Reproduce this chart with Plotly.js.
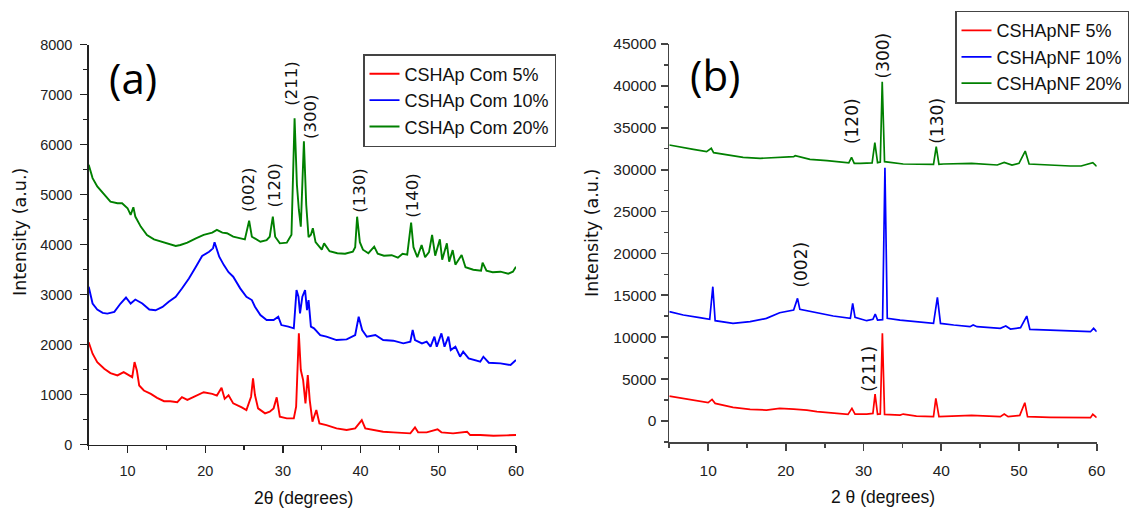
<!DOCTYPE html>
<html>
<head>
<meta charset="utf-8">
<script src="https://cdn.plot.ly/plotly-3.0.1.min.js"></script>
<style>html,body{margin:0;padding:0;background:#fff;}#chart{width:1130px;height:510px;}</style>
</head>
<body>
<div id="chart"></div>
<script>
// ---------- Panel (a): CSHAp Com ----------
const seriesNamesA = ["CSHAp Com 5%", "CSHAp Com 10%", "CSHAp Com 20%"];
const redA_x = [5, 5.5, 6.1, 7.0, 7.8, 8.7, 9.5, 10.2, 10.6, 10.9, 11.2, 11.5, 12.1, 13.0, 13.8, 14.7, 15.5, 16.4, 17.0, 17.7, 18.8, 19.8, 20.9, 21.5, 22.1, 22.5, 23.0, 23.6, 24.7, 25.3, 25.9, 26.15, 26.4, 26.8, 27.7, 28.3, 28.8, 29.2, 29.6, 30.5, 31.4, 31.7, 32.05, 32.3, 32.6, 32.9, 33.2, 33.45, 33.8, 34.3, 34.7, 35.6, 36.9, 38.2, 39.3, 40.15, 40.6, 41.7, 42.9, 44.2, 45.5, 46.4, 47.0, 47.4, 48.5, 49.9, 50.4, 51.9, 53.7, 54.1, 55.4, 57.1, 58.8, 60];
const redA_y = [2050, 1820, 1652, 1518, 1431, 1385, 1452, 1385, 1351, 1652, 1485, 1184, 1084, 1017, 937, 870, 870, 850, 950, 896, 983, 1050, 1017, 983, 1137, 917, 990, 827, 747, 693, 960, 1327, 993, 727, 627, 660, 727, 947, 560, 527, 527, 760, 2227, 1493, 1293, 827, 1393, 893, 460, 693, 427, 393, 327, 293, 327, 493, 327, 293, 260, 247, 227, 227, 347, 247, 247, 307, 247, 227, 260, 193, 193, 180, 187, 193];
const blueA_x = [5, 5.5, 6.1, 6.8, 7.4, 8.3, 9.1, 9.8, 10.4, 11.0, 11.9, 12.8, 13.6, 14.5, 15.3, 16.2, 17.0, 17.9, 18.8, 19.6, 20.5, 21.0, 21.2, 21.8, 22.4, 23.0, 23.6, 24.5, 25.3, 26.0, 26.4, 27.1, 27.9, 28.8, 29.4, 29.8, 30.7, 31.4, 31.75, 32.0, 32.2, 32.5, 32.85, 33.1, 33.3, 33.6, 34.0, 34.8, 35.6, 36.9, 38.2, 39.3, 39.75, 40.2, 40.8, 41.9, 42.9, 44.2, 45.5, 46.4, 46.7, 47.0, 47.9, 48.5, 49.0, 49.5, 49.8, 50.4, 50.8, 51.3, 51.6, 52.2, 52.8, 53.2, 53.9, 55.4, 55.8, 56.5, 58.0, 59.3, 60];
const blueA_y = [3158, 2823, 2703, 2636, 2622, 2656, 2823, 2944, 2823, 2903, 2823, 2703, 2689, 2756, 2857, 2957, 3124, 3325, 3559, 3773, 3860, 3927, 4050, 3760, 3592, 3450, 3360, 3127, 2960, 2893, 2760, 2593, 2493, 2493, 2560, 2393, 2360, 2327, 3093, 2960, 2627, 2960, 3093, 2693, 2893, 2360, 2327, 2193, 2160, 2093, 2107, 2193, 2560, 2293, 2160, 2193, 2093, 2080, 2027, 2060, 2293, 2093, 2027, 2060, 1960, 2160, 1960, 2227, 1960, 2160, 1893, 1960, 1760, 1860, 1727, 1660, 1760, 1640, 1627, 1593, 1693];
const greenA_x = [5, 5.5, 6.1, 7.0, 7.8, 8.7, 9.3, 10.0, 10.4, 10.75, 11.0, 11.7, 12.5, 13.4, 14.3, 15.1, 16.2, 16.8, 17.7, 18.8, 19.8, 20.9, 21.5, 22.2, 22.8, 23.6, 24.5, 25.1, 25.65, 26.0, 27.1, 27.9, 28.3, 28.7, 29.0, 29.6, 30.5, 31.1, 31.5, 31.8, 32.05, 32.3, 32.7, 33.0, 33.3, 33.6, 33.85, 34.2, 35.0, 35.3, 36.0, 37.0, 38.0, 39.0, 39.3, 39.55, 39.9, 40.3, 41.0, 41.75, 42.2, 43.0, 44.0, 44.8, 45.4, 46.0, 46.5, 46.8, 47.3, 47.85, 48.3, 48.8, 49.2, 49.6, 50.2, 50.5, 51.1, 51.4, 51.85, 52.2, 53.0, 53.5, 54.5, 55.5, 55.7, 56.2, 57.0, 58.0, 59.0, 59.6, 60];
const greenA_y = [5600, 5332, 5165, 4997, 4863, 4830, 4830, 4730, 4596, 4750, 4563, 4362, 4195, 4108, 4061, 4027, 3974, 3994, 4041, 4128, 4195, 4241, 4295, 4241, 4230, 4160, 4127, 4107, 4480, 4160, 4060, 4093, 4160, 4560, 4160, 4027, 4040, 4200, 6530, 5200, 4700, 4360, 6070, 4800, 4150, 4200, 4330, 4050, 3900, 4027, 3870, 3830, 3820, 3860, 3950, 4560, 4050, 3900, 3830, 3960, 3820, 3780, 3790, 3740, 3820, 3800, 4440, 3950, 3750, 3994, 3750, 3850, 4194, 3780, 4107, 3700, 4027, 3660, 3893, 3600, 3793, 3550, 3500, 3480, 3640, 3480, 3450, 3460, 3420, 3460, 3560];
const peakLabelsA = ["(002)", "(120)", "(211)", "(300)", "(130)", "(140)"];
const peakLabelA_x = [25.5, 28.9, 31.0, 33.45, 39.75, 46.65];
const peakLabelA_y = [5094, 5194, 7214, 6550, 5074, 4984];

// ---------- Panel (b): CSHApNF ----------
const seriesNamesB = ["CSHApNF 5%", "CSHApNF 10%", "CSHApNF 20%"];
const redB_x = [5, 6.8, 8.9, 10.0, 10.5, 10.9, 13.2, 15.4, 17.5, 19.2, 21.0, 22.7, 24.0, 26.1, 28.0, 28.5, 28.9, 30.4, 31.2, 31.48, 31.8, 32.15, 32.42, 32.7, 34.7, 35.1, 36.8, 39.0, 39.3, 39.7, 41.6, 43.9, 47.6, 48.1, 48.6, 50.1, 50.75, 51.1, 54.0, 57.0, 59.2, 59.5, 60];
const redB_y = [2983, 2705, 2426, 2188, 2585, 2108, 1631, 1392, 1313, 1512, 1432, 1313, 1114, 915, 796, 1512, 835, 835, 915, 3222, 796, 850, 10461, 796, 716, 835, 597, 517, 2705, 517, 597, 676, 517, 835, 517, 676, 2188, 517, 438, 398, 398, 796, 398];
const blueB_x = [5, 6.8, 8.9, 10.2, 10.6, 10.9, 13.2, 15.4, 17.5, 19.2, 21.0, 21.5, 21.8, 24.0, 26.1, 28.3, 28.6, 28.9, 29.3, 30.4, 31.2, 31.5, 31.8, 32.45, 32.75, 33.05, 34.7, 36.8, 39.0, 39.5, 39.9, 41.6, 43.7, 44.1, 44.6, 47.6, 48.3, 48.9, 50.2, 51.0, 51.4, 54.0, 56.2, 59.2, 59.6, 60];
const blueB_y = [13047, 12649, 12331, 12132, 16030, 11973, 11655, 11854, 12251, 12928, 13246, 14638, 13325, 12928, 12530, 12251, 14041, 12371, 12251, 11973, 12132, 12768, 12052, 12100, 30230, 12251, 12052, 11854, 11655, 14757, 11655, 11456, 11257, 11456, 11257, 11058, 11337, 10979, 11138, 12530, 10939, 10859, 10780, 10660, 11058, 10660];
const greenB_x = [5, 6.4, 8.1, 9.8, 10.4, 10.7, 12.4, 14.5, 16.7, 18.8, 21.0, 21.2, 23.1, 25.3, 27.4, 28.1, 28.45, 28.8, 29.6, 31.1, 31.45, 31.8, 32.15, 32.4, 32.7, 35.1, 39.0, 39.35, 39.7, 40.3, 43.9, 47.2, 48.1, 49.1, 50.0, 50.8, 51.3, 53.6, 56.6, 58.0, 59.5, 60];
const greenB_y = [32935, 32737, 32418, 32140, 32538, 32020, 31742, 31464, 31344, 31464, 31543, 31663, 31225, 31066, 30827, 30800, 31464, 30748, 30748, 30800, 33214, 30827, 30900, 40493, 30947, 30668, 30628, 32737, 30628, 30668, 30748, 30549, 30867, 30549, 30748, 32220, 30668, 30549, 30430, 30430, 30823, 30400];
const peakLabelsB = ["(300)", "(120)", "(130)", "(002)", "(211)"];
const peakLabelB_x = [32.56, 28.55, 39.43, 21.83, 30.74];
const peakLabelB_y = [43675, 35823, 35823, 18675, 6289];

const colors = ["#ff0000", "#0000ff", "#008000"];

const traces = [];
[[redA_x, redA_y], [blueA_x, blueA_y], [greenA_x, greenA_y]].forEach((s, i) => {
  traces.push({x: s[0], y: s[1], type: "scatter", mode: "lines", name: seriesNamesA[i],
    line: {color: colors[i], width: 1.9}, xaxis: "x", yaxis: "y", legend: "legend"});
});
[[redB_x, redB_y], [blueB_x, blueB_y], [greenB_x, greenB_y]].forEach((s, i) => {
  traces.push({x: s[0], y: s[1], type: "scatter", mode: "lines", name: seriesNamesB[i],
    line: {color: colors[i], width: 1.7}, xaxis: "x2", yaxis: "y2", legend: "legend2"});
});

const sans = "Arial, 'Liberation Sans', sans-serif";
const tickFontA = {family: sans, size: 14.5, color: "#222"};
const tickFontB = {family: sans, size: 15.5, color: "#222"};

function axis(extra, col, w) {
  return Object.assign({
    showgrid: false, zeroline: false, showline: true, linecolor: col, linewidth: w,
    ticks: "outside", ticklen: 7, tickwidth: w, tickcolor: col, mirror: false, fixedrange: true,
    tickformat: "d", exponentformat: "none", separatethousands: false
  }, extra);
}

const annotations = [];
peakLabelsA.forEach((t, i) => annotations.push({
  text: t, x: peakLabelA_x[i], y: peakLabelA_y[i], xref: "x", yref: "y", showarrow: false,
  textangle: -90, xanchor: "center", yanchor: "middle",
  font: {family: "'DejaVu Sans', sans-serif", size: 16.5, color: "#111"}
}));
peakLabelsB.forEach((t, i) => annotations.push({
  text: t, x: peakLabelB_x[i], y: peakLabelB_y[i], xref: "x2", yref: "y2", showarrow: false,
  textangle: -90, xanchor: "center", yanchor: "middle",
  font: {family: "'DejaVu Sans', sans-serif", size: 17, color: "#111"}
}));
const titleFont = {family: sans, size: 17.5, color: "#111"};
const yTitleFont = {family: "'DejaVu Sans', sans-serif", size: 17.5, color: "#111"};
annotations.push(
  {text: "Intensity (a.u.)", x: 20/1130, y: 1-232/510, xref: "paper", yref: "paper", showarrow: false, textangle: -90, xanchor: "center", yanchor: "middle", font: yTitleFont},
  {text: "Intensity (a.u.)", x: 592/1130, y: 1-233/510, xref: "paper", yref: "paper", showarrow: false, textangle: -90, xanchor: "center", yanchor: "middle", font: yTitleFont},
  {text: "2θ (degrees)", x: 303/1130, y: 1-498/510, xref: "paper", yref: "paper", showarrow: false, xanchor: "center", yanchor: "middle", font: titleFont},
  {text: "2 θ (degrees)", x: 882.5/1130, y: 1-496.5/510, xref: "paper", yref: "paper", showarrow: false, xanchor: "center", yanchor: "middle", font: titleFont},
  {text: "(a)", x: 133/1130, y: 1-77/510, xref: "paper", yref: "paper", showarrow: false, xanchor: "center", yanchor: "middle", font: {family: "'Open Sans', sans-serif", size: 42, color: "#000"}},
  {text: "(b)", x: 715/1130, y: 1-74/510, xref: "paper", yref: "paper", showarrow: false, xanchor: "center", yanchor: "middle", font: {family: "'Open Sans', sans-serif", size: 42, color: "#000"}}
);

const legendFont = {family: sans, size: 18, color: "#111"};
const layout = {
  width: 1130, height: 510,
  margin: {l: 0, r: 0, t: 0, b: 0},
  paper_bgcolor: "#ffffff", plot_bgcolor: "#ffffff",
  showlegend: true,
  xaxis: axis({domain: [88.7/1130, 516/1130], range: [5, 60], tick0: 0, dtick: 10, anchor: "y",
    tickfont: tickFontA, ticklabelstandoff: 5,
    minor: {dtick: 5, tick0: 0, ticks: "outside", ticklen: 4, tickwidth: 1.3, tickcolor: "#222", showgrid: false}}, "#222", 1.4),
  yaxis: axis({domain: [1-444.7/510, 1-44.7/510], range: [0, 8000], tick0: 0, dtick: 1000, anchor: "x",
    tickfont: tickFontA, ticklabelstandoff: 5,
    minor: {dtick: 500, tick0: 0, ticks: "outside", ticklen: 4, tickwidth: 1.3, tickcolor: "#222", showgrid: false}}, "#222", 1.4),
  xaxis2: axis({domain: [669.3/1130, 1096.7/1130], range: [5, 60], tick0: 0, dtick: 10, anchor: "y2",
    tickfont: tickFontB, ticklabelstandoff: 7,
    minor: {dtick: 5, tick0: 0, ticks: "outside", ticklen: 4, tickwidth: 1.6, tickcolor: "#444", showgrid: false}}, "#444", 1.8),
  yaxis2: axis({domain: [1-442/510, 1-43.9/510], range: [-2500, 45000], tick0: 0, dtick: 5000, anchor: "x2",
    tickfont: tickFontB, ticklabelstandoff: 1,
    minor: {dtick: 2500, tick0: 0, ticks: "outside", ticklen: 4, tickwidth: 1.6, tickcolor: "#444", showgrid: false}}, "#444", 1.8),
  legend: {x: 363/1130, y: 1-54/510, xanchor: "left", yanchor: "top", bgcolor: "#ffffff",
    bordercolor: "#444", borderwidth: 1.5, font: legendFont, tracegroupgap: 0},
  legend2: {x: 955/1130, y: 1-10.7/510, xanchor: "left", yanchor: "top", bgcolor: "#ffffff",
    bordercolor: "#444", borderwidth: 1.5, font: legendFont, tracegroupgap: 0},
  annotations: annotations
};

Plotly.newPlot("chart", traces, layout, {staticPlot: true, displayModeBar: false});
</script>
</body>
</html>
